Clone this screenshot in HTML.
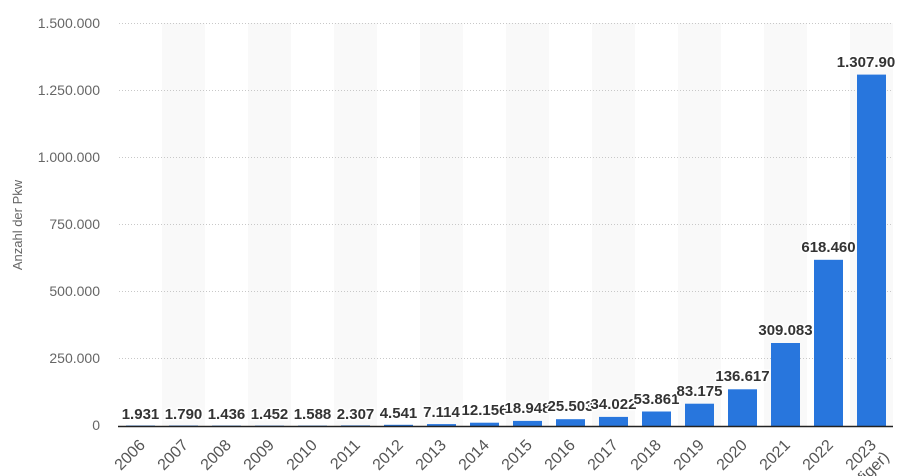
<!DOCTYPE html>
<html><head><meta charset="utf-8"><style>
html,body{margin:0;padding:0;background:#fff;width:903px;height:476px;overflow:hidden;}
svg{display:block;font-family:"Liberation Sans",sans-serif;}
.v{font-size:15px;font-weight:bold;fill:#333;text-anchor:middle;stroke:#fff;stroke-width:3px;paint-order:stroke;}
.y{font-size:14px;fill:#666;text-anchor:end;}
.x{font-size:16px;fill:#555;text-anchor:end;}
</style></head><body>
<svg width="903" height="476" viewBox="0 0 903 476">
<g fill="#f9f9f9">
<rect x="162" y="23" width="43" height="403"/><rect x="248" y="23" width="43" height="403"/>
<rect x="334" y="23" width="43" height="403"/><rect x="420" y="23" width="43" height="403"/>
<rect x="506" y="23" width="43" height="403"/><rect x="592" y="23" width="43" height="403"/>
<rect x="678" y="23" width="43" height="403"/><rect x="764" y="23" width="43" height="403"/>
<rect x="850" y="23" width="43" height="403"/>
</g>
<g stroke="#c8c8c8" stroke-width="1" stroke-dasharray="1,2">
<line x1="119" x2="893" y1="23.5" y2="23.5"/><line x1="119" x2="893" y1="90.5" y2="90.5"/>
<line x1="119" x2="893" y1="157.5" y2="157.5"/><line x1="119" x2="893" y1="224.5" y2="224.5"/>
<line x1="119" x2="893" y1="291.5" y2="291.5"/><line x1="119" x2="893" y1="358.5" y2="358.5"/>
</g>
<g class="y">
<text x="100" y="28">1.500.000</text><text x="100" y="95">1.250.000</text>
<text x="100" y="162">1.000.000</text><text x="100" y="229">750.000</text>
<text x="100" y="296">500.000</text><text x="100" y="363">250.000</text>
<text x="100" y="430">0</text>
</g>
<text transform="translate(22,225) rotate(-90)" style="font-size:13px;fill:#666;text-anchor:middle">Anzahl der Pkw</text>
<g fill="#2876dd">
<rect x="126" y="425.5" width="29" height="0.5"/><rect x="169" y="425.5" width="29" height="0.5"/>
<rect x="212" y="425.6" width="29" height="0.4"/><rect x="255" y="425.6" width="29" height="0.4"/>
<rect x="298" y="425.6" width="29" height="0.4"/><rect x="341" y="425.4" width="29" height="0.6"/>
<rect x="384" y="424.8" width="29" height="1.2"/><rect x="427" y="424.1" width="29" height="1.9"/>
<rect x="470" y="422.7" width="29" height="3.3"/><rect x="513" y="420.9" width="29" height="5.1"/>
<rect x="556" y="419.2" width="29" height="6.8"/><rect x="599" y="416.9" width="29" height="9.1"/>
<rect x="642" y="411.5" width="29" height="14.5"/><rect x="685" y="403.7" width="29" height="22.3"/>
<rect x="728" y="389.3" width="29" height="36.7"/><rect x="771" y="343" width="29" height="83"/>
<rect x="814" y="259.8" width="29" height="166.2"/><rect x="857" y="74.6" width="29" height="351.4"/>
</g>
<line x1="118" x2="893" y1="426.5" y2="426.5" stroke="#222" stroke-width="1.5"/>
<g class="v">
<text x="140.5" y="419">1.931</text><text x="183.5" y="419">1.790</text>
<text x="226.5" y="419">1.436</text><text x="269.5" y="419">1.452</text>
<text x="312.5" y="419">1.588</text><text x="355.5" y="419">2.307</text>
<text x="398.5" y="418">4.541</text><text x="441.5" y="417">7.114</text>
<text x="484.5" y="415">12.156</text><text x="527.5" y="413">18.948</text>
<text x="570.5" y="411">25.503</text><text x="613.5" y="409">34.022</text>
<text x="656.5" y="404">53.861</text><text x="699.5" y="396">83.175</text>
<text x="742.5" y="381">136.617</text><text x="785.5" y="335">309.083</text>
<text x="828.5" y="252">618.460</text><text x="866" y="67">1.307.90</text>
</g>
<g class="x">
<text transform="translate(146,446) rotate(-45)">2006</text>
<text transform="translate(189,446) rotate(-45)">2007</text>
<text transform="translate(232,446) rotate(-45)">2008</text>
<text transform="translate(275,446) rotate(-45)">2009</text>
<text transform="translate(318,446) rotate(-45)">2010</text>
<text transform="translate(361,446) rotate(-45)">2011</text>
<text transform="translate(404,446) rotate(-45)">2012</text>
<text transform="translate(447,446) rotate(-45)">2013</text>
<text transform="translate(490,446) rotate(-45)">2014</text>
<text transform="translate(533,446) rotate(-45)">2015</text>
<text transform="translate(576,446) rotate(-45)">2016</text>
<text transform="translate(619,446) rotate(-45)">2017</text>
<text transform="translate(662,446) rotate(-45)">2018</text>
<text transform="translate(705,446) rotate(-45)">2019</text>
<text transform="translate(748,446) rotate(-45)">2020</text>
<text transform="translate(791,446) rotate(-45)">2021</text>
<text transform="translate(834,446) rotate(-45)">2022</text>
<text transform="translate(877,446) rotate(-45)">2023</text>
<text transform="translate(890,458) rotate(-45)">(vorläufiger)</text>
</g>
</svg>
</body></html>
